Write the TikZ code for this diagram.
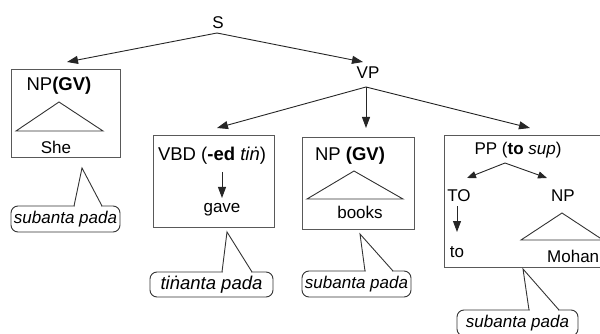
\documentclass[tikz,border=0pt]{standalone}
\usepackage{fontspec}
\setmainfont{Liberation Sans}
\usetikzlibrary{arrows.meta}
\newcommand{\fs}[1]{\fontsize{#1}{#1}\selectfont}
\begin{document}
\begin{tikzpicture}[x=1pt,y=-1pt,
  lbl/.style={inner sep=0pt, text=black, font=\fs{17}},
  head/.style={inner sep=0pt, text=black, font=\fs{18.5}},
  box/.style={draw=black!65, line width=1pt, inner sep=0pt},
  ln/.style={draw=black!80, line width=0.9pt},
  arr/.style={draw=black!85, line width=0.9pt, -{Triangle[length=11pt,width=8pt]}},
  sarr/.style={draw=black!85, line width=0.9pt, -{Triangle[length=9pt,width=7pt]}},
  cbox/.style={draw=black!80, line width=0.9pt, rounded corners=7pt, inner sep=0pt, text=black},
]
\useasboundingbox (0,0) rectangle (600,334);

% boxes
\node[box, minimum width=109, minimum height=88] (npbox) at (65.5,114) {};
\node[box, minimum width=121, minimum height=91] (vbdbox) at (213.5,181.5) {};
\node[box, minimum width=112, minimum height=91] (np2box) at (358,183.5) {};
\node[box, minimum width=176, minimum height=131] (ppbox) at (532,201.5) {};

% labels
\node[lbl] (S) at (218,23) {S};
\node[lbl] (VP) at (368,73) {VP};
\node[head] (NP1) at (59,86) {NP\textbf{(GV)}};
\node[lbl] (She) at (56,147) {She};
\node[head] (VBD) at (212,156) {VBD (\textbf{-ed} \textit{tiṅ})};
\node[lbl] (gave) at (222,210) {gave};
\node[head] (NP2) at (350,156) {NP \textbf{(GV)}};
\node[lbl] (books) at (360,212) {books};
\node[lbl] (PP) at (518,150) {PP (\textbf{to} \textit{sup})};
\node[lbl] (TO) at (459,196) {TO};
\node[lbl] (to) at (457,252) {to};
\node[lbl] (NP3) at (563,196) {NP};
\node[lbl, anchor=west] (Mohan) at (547,256) {Mohan};

% connector points
\coordinate (Sb) at (217,33);
\coordinate (NP1t) at (67,62);
\coordinate (VPt) at (363,62);
\coordinate (VPb) at (366,87);
\coordinate (VBDt) at (217,128);
\coordinate (NP2t) at (366,128);
\coordinate (PPt) at (530,128);
\coordinate (PPb) at (505,163);
\coordinate (TOt) at (467,178);
\coordinate (NP3t) at (547,178);
\coordinate (VBDb) at (222,172);
\coordinate (gavet) at (222,198);
\coordinate (TOb) at (457,206);
\coordinate (tot) at (457,232);

\draw[arr] (Sb) -- (NP1t);
\draw[arr] (Sb) -- (VPt);
\draw[arr] (VPb) -- (VBDt);
\draw[arr] (VPb) -- (NP2t);
\draw[arr] (VPb) -- (PPt);
\draw[sarr] (PPb) -- (TOt);
\draw[sarr] (PPb) -- (NP3t);
\draw[arr] (VBDb) -- (gavet);
\draw[arr] (TOb) -- (tot);

% triangles
\draw[ln] (59,102) -- (103,131) -- (16,131) -- cycle;
\draw[ln] (354,171) -- (403,199) -- (307,199) -- cycle;
\draw[ln] (562,213) -- (603,240) -- (521,240) -- cycle;

% callouts
\node[cbox, minimum width=109, minimum height=26] (c1) at (65.5,219) {\fs{17}\itshape subanta pada};
\node[cbox, minimum width=123, minimum height=25] (c2) at (211.5,284.5) {\fs{18.5}\itshape tiṅanta pada};
\node[cbox, minimum width=109, minimum height=26] (c3) at (356.5,284) {\fs{17}\itshape subanta pada};
\node[cbox, minimum width=121, minimum height=26] (c4) at (517.5,323) {\fs{17}\itshape subanta pada};

\fill[white] (75,204) rectangle (101,208);
\draw[ln] (74,206) -- (82,168) -- (102,206);
\fill[white] (223,270) rectangle (251,274);
\draw[ln] (222,272) -- (227,232) -- (252,272);
\fill[white] (366,269) rectangle (392,273);
\draw[ln] (365,271) -- (360,234) -- (393,271);
\fill[white] (530,308) rectangle (558,312);
\draw[ln] (529,310) -- (523,269) -- (559,310);
\end{tikzpicture}
\end{document}
